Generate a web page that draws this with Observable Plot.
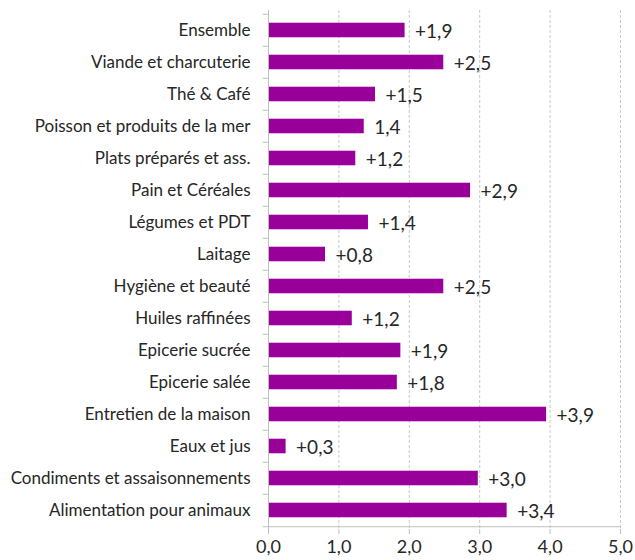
<!DOCTYPE html>
<html>
<head>
<meta charset="utf-8">
<script src="https://cdn.jsdelivr.net/npm/d3@7"></script>
<script src="https://cdn.jsdelivr.net/npm/@observablehq/plot@0.6"></script>
<style>
  body { margin: 0; background: #fff; }
  #chart svg { font-family: Lato, "Open Sans", sans-serif; }
</style>
</head>
<body>
<div id="chart"></div>
<script>
const categories = [
  "Ensemble", "Viande et charcuterie", "Thé & Café", "Poisson et produits de la mer",
  "Plats préparés et ass.", "Pain et Céréales", "Légumes et PDT", "Laitage",
  "Hygiène et beauté", "Huiles raffinées", "Epicerie sucrée", "Epicerie salée",
  "Entretien de la maison", "Eaux et jus", "Condiments et assaisonnements", "Alimentation pour animaux"
];
const values = [1.94, 2.49, 1.52, 1.36, 1.24, 2.87, 1.42, 0.81, 2.49, 1.19, 1.88, 1.83, 3.95, 0.25, 2.98, 3.39];
const valueLabels = ["+1,9", "+2,5", "+1,5", "1,4", "+1,2", "+2,9", "+1,4", "+0,8", "+2,5", "+1,2", "+1,9", "+1,8", "+3,9", "+0,3", "+3,0", "+3,4"];
const xTicks = [0, 1, 2, 3, 4, 5];
const xTickLabels = ["0,0", "1,0", "2,0", "3,0", "4,0", "5,0"];

const data = categories.map((c, i) => ({cat: c, value: values[i], label: valueLabels[i]}));

const W = 635, H = 560;
const mTop = 10, mBottom = 31, mLeft = 268, mRight = 15;
const step = (H - mTop - mBottom) / categories.length;
const barH = 15;
const inset = (step - barH) / 2;

const chart = Plot.plot({
  width: W,
  height: H,
  marginTop: mTop,
  marginBottom: mBottom,
  marginLeft: mLeft,
  marginRight: mRight,
  x: {domain: [0, 5]},
  y: {domain: categories, padding: 0},
  marks: [
    Plot.ruleX(xTicks.filter(d => d > 0), {stroke: "#c8c8c8", strokeDasharray: "3,2", strokeWidth: 1}),
    Plot.barX(data, {x: "value", y: "cat", fill: "#990099", insetTop: inset, insetBottom: inset}),
    Plot.ruleX([0], {stroke: "#bfbfbf", strokeWidth: 1}),
    Plot.ruleY([categories[categories.length - 1]], {x1: 0, x2: 5, dy: step / 2, stroke: "#bfbfbf", strokeWidth: 1}),
    Plot.ruleY(categories, {x1: -0.075, x2: 0, dy: -step / 2, stroke: "#bfbfbf", strokeWidth: 1, clip: false}),
    Plot.ruleY([categories[categories.length - 1]], {x1: -0.075, x2: 0, dy: step / 2, stroke: "#bfbfbf", strokeWidth: 1}),
    Plot.text(data, {x: "value", y: "cat", text: "label", textAnchor: "start", dx: 10, dy: 1, fontSize: 19, fill: "#262626"}),
    Plot.axisY({tickSize: 0, tickPadding: 18, fontSize: 17, color: "#262626", label: null}),
    Plot.axisX({ticks: xTicks, tickFormat: (d) => xTickLabels[xTicks.indexOf(d)], tickSize: 5, tickPadding: 6, fontSize: 18, stroke: "#bfbfbf", color: "#262626", label: null})
  ]
});
document.getElementById("chart").appendChild(chart);
</script>
</body>
</html>
